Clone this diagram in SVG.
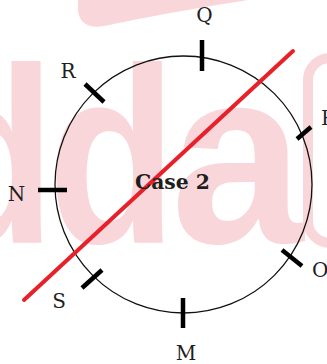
<svg xmlns="http://www.w3.org/2000/svg" width="327" height="364" viewBox="0 0 327 364">
<style>
.wm{fill:#f9d6d9;font-family:"Liberation Sans",Arial,sans-serif;font-weight:bold;font-size:251px}
.lbl{font-family:"DejaVu Serif","Liberation Serif",serif;font-size:20px;fill:#1e1e1e}
.tick{stroke:#000;stroke-width:4.5;stroke-linecap:butt}
</style>
<rect width="327" height="364" fill="#fff"/>
<g id="watermark">
<path d="M78,0 L78,10 Q80,30 104,26 Q170,12 248,0 Z" fill="#f9d6d9"/>
<text class="wm" transform="scale(0.84,1)" x="-87.4 56.7" y="243">dd</text>
<text class="wm" transform="scale(0.95,1)" x="180" y="243">a</text>
<rect x="308" y="58" width="100" height="185" rx="22" fill="none" stroke="#f9d6d9" stroke-width="10"/>
</g>
<g id="circle">
<circle cx="183.5" cy="184.5" r="128.5" fill="none" stroke="#111" stroke-width="1.3"/>
</g>
<g id="connectors">
<line x1="24" y1="300" x2="293" y2="51" stroke="#e8202a" stroke-width="4" stroke-linecap="round"/>
</g>
<g id="Q"><line class="tick" x1="202" y1="40" x2="202" y2="71"/><text class="lbl" x="204.5" y="22" text-anchor="middle">Q</text></g>
<g id="R"><line class="tick" x1="85" y1="84" x2="104" y2="102"/><text class="lbl" x="68" y="78" text-anchor="middle">R</text></g>
<g id="P"><line class="tick" x1="297" y1="139" x2="311" y2="127"/><text class="lbl" x="321" y="125">P</text></g>
<g id="N"><line class="tick" x1="38" y1="190" x2="67" y2="190"/><text class="lbl" x="16.5" y="201" text-anchor="middle">N</text></g>
<g id="O"><line class="tick" x1="282" y1="250" x2="302" y2="266"/><text class="lbl" x="312" y="277">O</text></g>
<g id="S"><line class="tick" x1="82" y1="288" x2="102" y2="270"/><text class="lbl" x="59" y="308" text-anchor="middle">S</text></g>
<g id="M"><line class="tick" x1="183" y1="298" x2="183" y2="328"/><text class="lbl" x="186" y="360" text-anchor="middle">M</text></g>
<g id="case"><text x="135" y="189" font-family="DejaVu Serif,'Liberation Serif',serif" font-weight="bold" font-size="21" fill="#1e1e1e" textLength="75" lengthAdjust="spacingAndGlyphs">Case 2</text></g>
</svg>
